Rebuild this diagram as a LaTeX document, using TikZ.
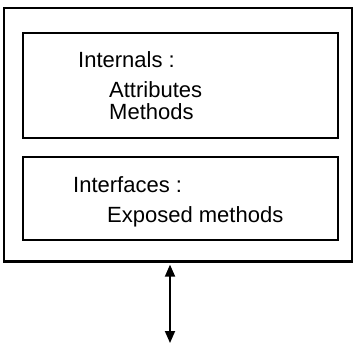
\documentclass[tikz,border=0pt]{standalone}
\usepackage{fontspec}
\setmainfont{Liberation Sans}
\usetikzlibrary{arrows.meta}
\begin{document}
\begin{tikzpicture}[x=1pt,y=-1pt,
  frame/.style={draw, line width=1.3pt, inner sep=0pt},
  label/.style={anchor=base west, inner sep=0pt, font=\fontsize{22}{25}\selectfont},
  link/.style={line width=1.8pt, {Triangle[length=12pt,width=10pt]}-{Triangle[length=12pt,width=10pt]}}]
  \useasboundingbox (0,0) rectangle (355,345);
  % object boundary and its two compartments
  \node[frame, minimum width=348pt, minimum height=253pt] (object) at (178,134.5) {};
  \node[frame, line width=1.1pt, minimum width=315pt, minimum height=105pt] (internals) at (180.5,85.5) {};
  \node[frame, line width=1.1pt, minimum width=315pt, minimum height=83pt] (interfaces) at (180.5,198.5) {};
  % heavier lower edge of the boundary
  \draw[line width=2pt] (object.south west) -- (object.south east);
  % compartment contents
  \node[label] (inttitle) at (78,67) {Internals :};
  \node[label] (attr) at (109,97) {Attributes};
  \node[label] (meth) at (109,119) {Methods};
  \node[label] (iftitle) at (73,192) {Interfaces :};
  \node[label] (exposed) at (107,222) {Exposed methods};
  % two-way link to the outside
  \coordinate (outside) at (170,343);
  \draw[link, shorten <=3pt] (object.south -| outside) -- (outside);
\end{tikzpicture}
\end{document}
